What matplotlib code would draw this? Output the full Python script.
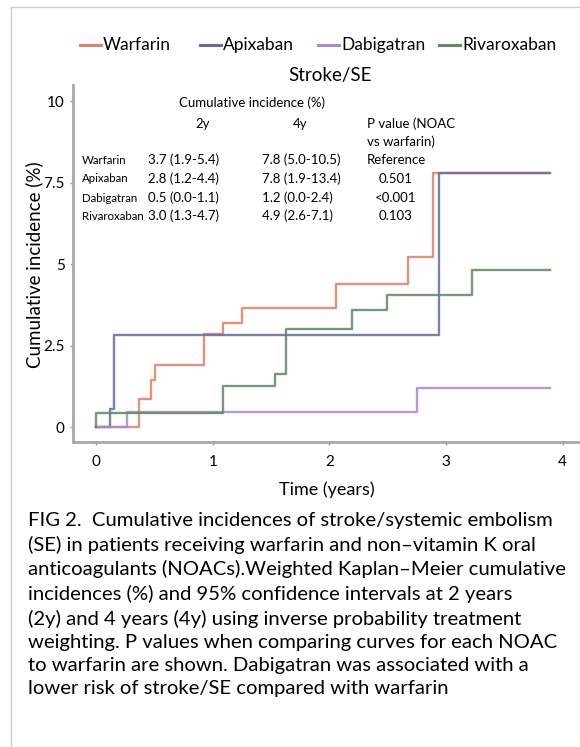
import matplotlib
matplotlib.use('Agg')
import matplotlib.pyplot as plt
from matplotlib.lines import Line2D

plt.rcParams['font.family'] = ['Lato', 'DejaVu Sans']

# Step curves (time in years, cumulative incidence in %)
warfarin_t = [0, 0.363, 0.47, 0.50, 0.92, 1.09, 1.25, 2.06, 2.67, 2.89, 3.89]
warfarin_v = [0, 0.86, 1.45, 1.9, 2.85, 3.2, 3.67, 4.41, 5.23, 7.8, 7.8]
apixaban_t = [0, 0.12, 0.15, 2.94, 3.89]
apixaban_v = [0, 0.55, 2.82, 7.8, 7.8]
dabigatran_t = [0, 0.263, 2.75, 3.89]
dabigatran_v = [0, 0.47, 1.2, 1.2]
rivaroxaban_t = [0, 0, 1.083, 1.53, 1.63, 2.19, 2.49, 3.22, 3.89]
rivaroxaban_v = [0, 0.43, 1.28, 1.64, 3.03, 3.59, 4.07, 4.84, 4.84]

drugs = ['Warfarin', 'Apixaban', 'Dabigatran', 'Rivaroxaban']
colors = ['#e0836b', '#6a6d9c', '#a88cd4', '#628b60']

# table in the plot
inc_2y = ['3.7 (1.9-5.4)', '2.8 (1.2-4.4)', '0.5 (0.0-1.1)', '3.0 (1.3-4.7)']
inc_4y = ['7.8 (5.0-10.5)', '7.8 (1.9-13.4)', '1.2 (0.0-2.4)', '4.9 (2.6-7.1)']
p_values = ['Reference', '0.501', '<0.001', '0.103']

x_ticks = [0, 1, 2, 3, 4]
y_ticks = [0, 2.5, 5, 7.5, 10]
y_tick_labels = ['0', '2.5', '5', '7.5', '10']

caption = ("FIG 2.  Cumulative incidences of stroke/systemic embolism\n"
           "(SE) in patients receiving warfarin and non\u2013vitamin K oral\n"
           "anticoagulants (NOACs).Weighted Kaplan\u2013Meier cumulative\n"
           "incidences (%) and 95% confidence intervals at 2 years\n"
           "(2y) and 4 years (4y) using inverse probability treatment\n"
           "weighting. P values when comparing curves for each NOAC\n"
           "to warfarin are shown. Dabigatran was associated with a\n"
           "lower risk of stroke/SE compared with warfarin")

W, H = 580, 747
fig = plt.figure(figsize=(W / 100, H / 100), dpi=100)


def fx(px):
    return px / W


def fy(py):
    return 1 - py / H


# light frame round the figure (only top and left visible)
fig.add_artist(Line2D([fx(11), fx(11)], [0, fy(7)], color='#cfcfcf', lw=1))
fig.add_artist(Line2D([fx(11), 1], [fy(7), fy(7)], color='#cfcfcf', lw=1))

ax = fig.add_axes([fx(73), fy(442), 1 - fx(73), fy(85) - fy(442)])

series = [(warfarin_t, warfarin_v), (apixaban_t, apixaban_v),
          (dabigatran_t, dabigatran_v), (rivaroxaban_t, rivaroxaban_v)]
for name, col, (t, v) in zip(drugs, colors, series):
    ax.plot(t, v, drawstyle='steps-post', color=col, lw=1.7, alpha=0.88,
            label=name)

ax.set_xlim(-0.2, 4.15)
ax.set_ylim(-0.45, 10.5)
ax.set_xticks(x_ticks)
ax.set_yticks(y_ticks)
ax.set_yticklabels(y_tick_labels)
ax.tick_params(labelsize=11, length=2, width=1, color='#999999')
ax.tick_params(axis='y', pad=4)
ax.tick_params(axis='x', pad=7)
for s in ['top', 'right']:
    ax.spines[s].set_visible(False)
for s in ['left', 'bottom']:
    ax.spines[s].set_color('#a8a8a8')
    ax.spines[s].set_linewidth(2)

ax.set_xlabel('Time (years)', fontsize=13, labelpad=9)
fig.text(fx(34), fy(265), 'Cumulative incidence (%)', rotation=90,
         fontsize=13.5, ha='center', va='center')
fig.text(fx(330), fy(75), 'Stroke/SE', fontsize=13.5, ha='center', va='center')

# legend on top, placed by hand like the original
leg_x = [80, 200, 318, 439]
for name, col, lx in zip(drugs, colors, leg_x):
    fig.add_artist(Line2D([fx(lx), fx(lx + 21)], [fy(45), fy(45)],
                          color=col, lw=2.2))
    fig.text(fx(lx + 23), fy(45), name, fontsize=12.5, ha='left',
             va='center')

# table text
fig.text(fx(252), fy(103), 'Cumulative incidence (%)', fontsize=9.5,
         ha='center', va='center')
fig.text(fx(203), fy(124), '2y', fontsize=9.5, ha='center', va='center')
fig.text(fx(300), fy(124), '4y', fontsize=9.5, ha='center', va='center')
fig.text(fx(367), fy(124), 'P value (NOAC', fontsize=9.5, ha='left', va='center')
fig.text(fx(367), fy(142), 'vs warfarin)', fontsize=9.5, ha='left', va='center')
row_y = [160, 179, 198, 216]
for i, y in enumerate(row_y):
    fig.text(fx(82), fy(y), drugs[i], fontsize=8.3, ha='left', va='center')
    fig.text(fx(148), fy(y), inc_2y[i], fontsize=9.5, ha='left', va='center')
    fig.text(fx(262), fy(y), inc_4y[i], fontsize=9.5, ha='left', va='center')
    fig.text(fx(396), fy(y), p_values[i], fontsize=9.5, ha='center',
             va='center')

fig.text(fx(28), fy(512), caption, fontsize=14.6, ha='left', va='top',
         linespacing=1.44)

fig.savefig('out.png', dpi=100)
